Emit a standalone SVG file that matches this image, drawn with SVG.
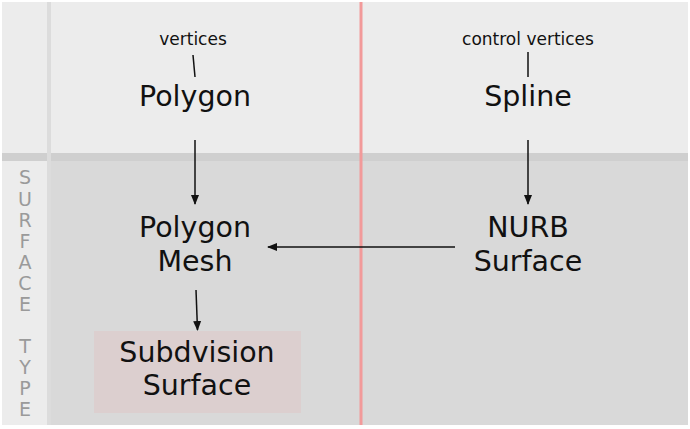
<svg xmlns="http://www.w3.org/2000/svg" width="690" height="429" viewBox="0 0 690 429">
<style>
.t{font-family:"DejaVu Sans","Verdana",sans-serif;fill:#111;text-anchor:middle}
.big{font-size:28.5px}
.sm{font-size:17px}
.side{font-family:"DejaVu Sans",sans-serif;font-size:19px;fill:#9a9a9a;text-anchor:middle}
.c{stroke:#111;stroke-width:1.5;fill:none}
</style>
<defs><marker id="a" markerWidth="10" markerHeight="10" refX="9" refY="5" orient="auto" markerUnits="userSpaceOnUse"><path d="M0,1 L10,5 L0,9 Z" fill="#111"/></marker></defs>
<rect width="690" height="429" fill="#fff"/>
<rect x="2" y="2" width="686" height="153" fill="#ececec"/>
<rect x="2" y="160" width="686" height="265" fill="#d9d9d9"/>
<rect x="2" y="153" width="686" height="8" fill="#cfcfcf"/>
<rect x="2" y="161" width="46" height="264" fill="#ececec"/>
<rect x="47" y="2" width="4" height="423" fill="#dcdcdc"/>
<rect x="359.5" y="2" width="3" height="423" fill="#f29a9a"/>
<g>
<text class="side" x="25" y="184">S</text><text class="side" x="25" y="206">U</text><text class="side" x="25" y="227">R</text><text class="side" x="25" y="248">F</text><text class="side" x="25" y="269">A</text><text class="side" x="25" y="290">C</text><text class="side" x="25" y="311">E</text><text class="side" x="25" y="353">T</text><text class="side" x="25" y="374">Y</text><text class="side" x="25" y="395">P</text><text class="side" x="25" y="416">E</text>
</g>
<g id="polygon"><text class="t sm" x="193" y="45">vertices</text><path class="c" d="M193,55 L195,77" stroke-width="1.2"/><text class="t big" x="195" y="106">Polygon</text></g>
<g id="spline"><text class="t sm" x="528" y="45">control vertices</text><path class="c" d="M528,52 L528,77" stroke-width="1.2"/><text class="t big" x="528" y="106">Spline</text></g>
<g id="mesh"><text class="t big" x="195" y="237">Polygon</text><text class="t big" x="195" y="271">Mesh</text></g>
<g id="nurb"><text class="t big" x="528" y="237">NURB</text><text class="t big" x="528" y="271">Surface</text></g>
<g id="subdiv"><rect x="94" y="331" width="207" height="82" fill="#dccfcf"/><text class="t big" x="197" y="362">Subdvision</text><text class="t big" x="197" y="395">Surface</text></g>
<g id="connectors">
<path class="c" d="M195,140 L195,204" marker-end="url(#a)"/>
<path class="c" d="M528,140 L528,204" marker-end="url(#a)"/>
<path class="c" d="M455,247 L268,247" marker-end="url(#a)"/>
<path class="c" d="M196,290 L197.5,330" marker-end="url(#a)"/>
</g>
</svg>
